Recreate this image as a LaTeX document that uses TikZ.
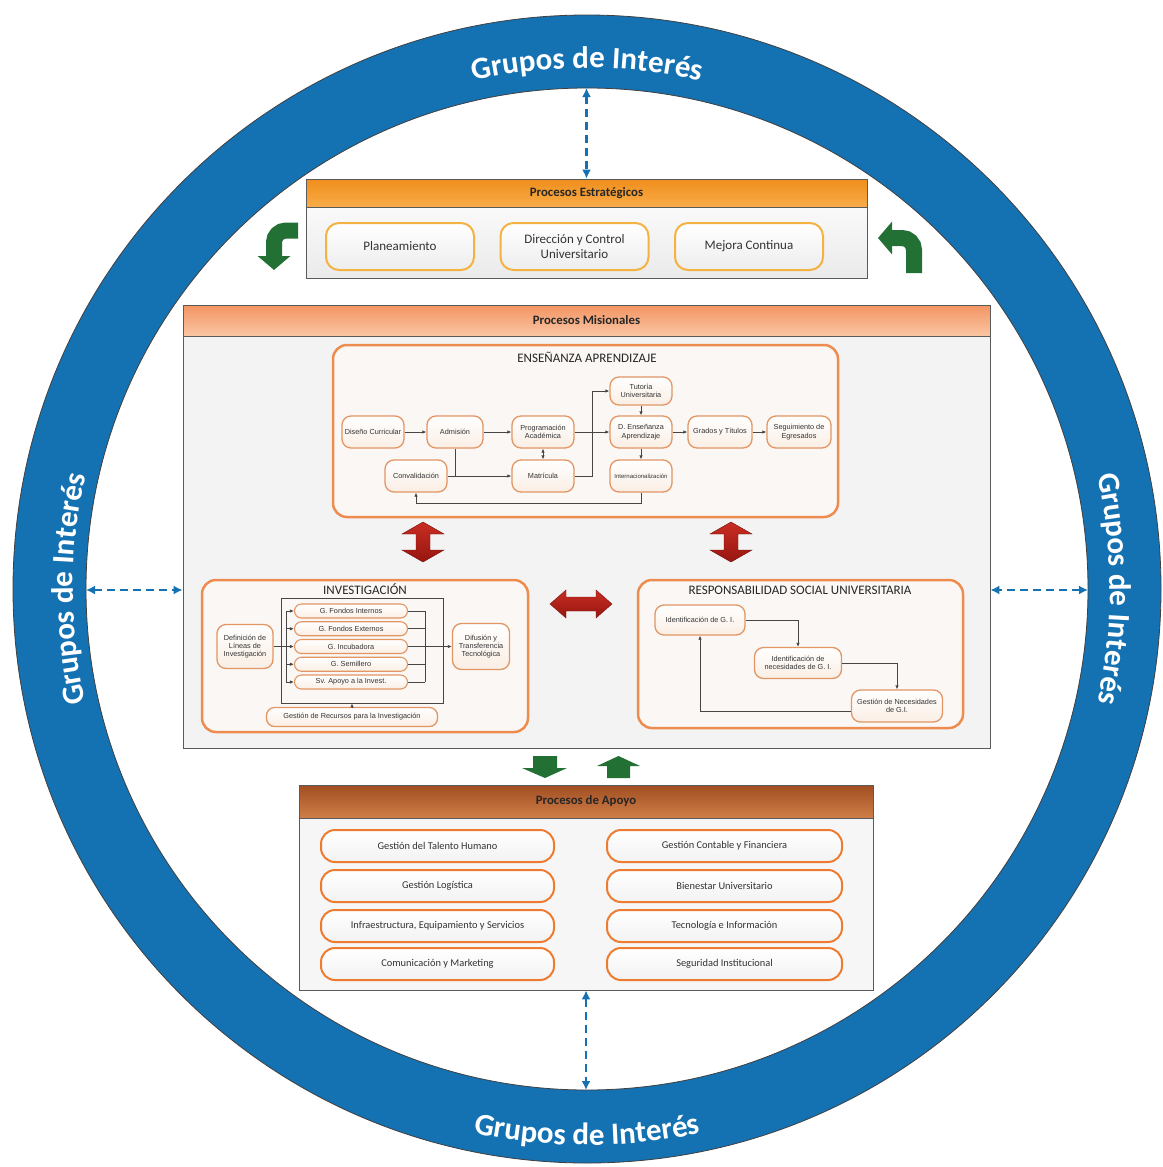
\documentclass[tikz,border=0pt]{standalone}
\usepackage{fontspec}
\setmainfont{Carlito}
\newfontfamily\flowfont{Liberation Sans}
\usetikzlibrary{arrows.meta,decorations.text}

\definecolor{ringblue}{RGB}{20,113,178}
\definecolor{boxgray}{RGB}{90,90,90}
\definecolor{esttop}{RGB}{240,142,28}
\definecolor{estbot}{RGB}{248,172,72}
\definecolor{estborder}{RGB}{244,178,66}
\definecolor{mistop}{RGB}{243,148,98}
\definecolor{misbot}{RGB}{250,198,164}
\definecolor{misfill}{RGB}{243,243,243}
\definecolor{apotop}{RGB}{162,78,34}
\definecolor{apobot}{RGB}{206,126,72}
\definecolor{apofill}{RGB}{246,246,246}
\definecolor{apoborder}{RGB}{238,124,48}
\definecolor{frameorange}{RGB}{238,140,80}
\definecolor{framefill}{RGB}{250,247,244}
\definecolor{flowborder}{RGB}{226,150,100}
\definecolor{flowfill}{RGB}{250,238,228}
\definecolor{linkgray}{RGB}{70,70,70}
\definecolor{arrowgreen}{RGB}{34,112,52}
\definecolor{arrowred}{RGB}{150,22,16}
\definecolor{arrowredlight}{RGB}{200,45,35}

\newcommand{\ringfont}{\fontsize{31}{31}\selectfont\bfseries}

\tikzset{
	ringline/.style={draw=black!75, line width=0.8pt},
	bigbox/.style={draw=boxgray, line width=0.8pt},
	headband/.style={draw=boxgray, line width=0.8pt, anchor=north, font=\fontsize{12.8}{14}\selectfont\bfseries, text=black!85},
	estbox/.style={draw=estborder, line width=2pt, rounded corners=13pt, top color=white, bottom color=gray!14, minimum width=148pt, minimum height=47pt, align=center, font=\fontsize{13}{15}\selectfont, text=black!80},
	apobox/.style={draw=apoborder, line width=2pt, rounded corners=14pt, top color=white, bottom color=gray!10, minimum height=32pt, font=\fontsize{10.4}{12}\selectfont, text=black!80},
	areaframe/.style={draw=frameorange, line width=2.5pt, rounded corners=14pt, fill=framefill},
	areatitle/.style={font=\fontsize{13}{15}\selectfont, text=black!85},
	flowbox/.style={draw=flowborder, line width=1.3pt, rounded corners=9pt, top color=white, bottom color=flowfill, minimum width=62pt, minimum height=32pt, align=center, inner sep=1pt, font=\flowfont\fontsize{7.3}{8.4}\selectfont, text=black!80},
	gbox/.style={flowbox, minimum width=113pt, minimum height=14pt, rounded corners=7pt, line width=1.1pt, inner sep=0.5pt},
	link/.style={draw=linkgray, line width=0.8pt, -{Latex[length=4pt,width=3.5pt]}},
	linkboth/.style={link, {Latex[length=4pt,width=3.5pt]}-{Latex[length=4pt,width=3.5pt]}},
	linkline/.style={draw=linkgray, line width=0.8pt},
	gilink/.style={draw=ringblue, line width=2.2pt, dash pattern=on 8pt off 5pt, {Latex[length=9pt,width=9pt]}-{Latex[length=9pt,width=9pt]}},
	bendarrow/.style={draw=arrowgreen, line width=16pt, rounded corners=12pt, -{Triangle[length=14pt,width=32pt]}},
	blockgreen/.style={fill=arrowgreen},
	blockred/.style={top color=arrowredlight, bottom color=arrowred, draw=arrowred!80!black, line width=0.4pt}
}

\begin{document}
\begin{tikzpicture}[x=1pt,y=-1pt]
	\useasboundingbox (0,0) rectangle (1162,1167);
	\fill[white] (0,0) rectangle (1162,1167);
	% Ring
	\coordinate (ctr) at (587,589);
	\fill[ringblue, even odd rule] (ctr) circle[radius=574pt] (ctr) circle[radius=501pt];
	\draw[ringline] (ctr) circle[radius=574pt];
	\draw[ringline] (ctr) circle[radius=501pt];
	% Ring labels
	\foreach \a/\b/\rad in {115/65/521, 205/155/514, 25/-25/523, 245/295/556} {
		\path[decorate, decoration={text along path, text={|\ringfont|Grupos de Interés}, text align=center, text color=white}]
			([shift={(ctr)}]\a:\rad pt) arc[start angle=\a, end angle=\b, radius=\rad pt];
	}
	\coordinate (ringtop) at (586.5,88);
	\coordinate (ringleft) at (86,590);
	\coordinate (ringright) at (1088,590);
	\coordinate (ringbot) at (586,1090);

	% Strategic
	\node[bigbox, top color=white, bottom color=gray!16, minimum width=561pt, minimum height=99pt] (est) at (586.5,228.5) {};
	\node[headband, top color=esttop, bottom color=estbot, minimum width=561pt, minimum height=28pt] (esthead) at (est.north) {Procesos Estratégicos};
	\foreach \x/\name/\txt in {400/plan/Planeamiento, 574.5/dir/{Dirección y Control\\Universitario}, 749/mej/Mejora Continua} {
		\node[estbox] (\name) at (\x,246.5) {\txt};
	}
	\draw[gilink] (ringtop) -- (est.north);
	\draw[bendarrow] (298,230.5) -- (274,230.5) -- (274,270);
	\draw[bendarrow] (914,273) -- (914,238) -- (878,238);

	% Missional
	\node[bigbox, fill=misfill, minimum width=807pt, minimum height=443pt] (mis) at (586.5,526.5) {};
	\node[headband, top color=mistop, bottom color=misbot, minimum width=807pt, minimum height=31pt] (mishead) at (mis.north) {Procesos Misionales};
	\draw[gilink] (ringleft) -- (ringleft -| mis.west);
	\draw[gilink] (ringright) -- (ringright -| mis.east);

	% Teaching
	\node[areaframe, minimum width=505pt, minimum height=172pt] (ens) at (585.5,431) {};
	\node[areatitle] (enstitle) at (587,357) {ENSEÑANZA APRENDIZAJE};
	\node[flowbox] (dis) at (373,432) {Diseño Curricular};
	\node[flowbox, minimum width=56pt] (adm) at (455,432) {Admisión};
	\node[flowbox] (prog) at (543,432) {Programación\\Académica};
	\node[flowbox, minimum height=28pt] (tut) at (641,391) {Tutoría\\Universitaria};
	\node[flowbox] (dea) at (641,432) {D. Enseñanza\\Aprendizaje};
	\node[flowbox, font=\flowfont\fontsize{6}{7}\selectfont] (intl) at (641,476) {Internacionalización};
	\node[flowbox, minimum width=64pt] (gyt) at (720,432) {Grados y Títulos};
	\node[flowbox, minimum width=64pt] (seg) at (799,432) {Seguimiento de\\Egresados};
	\node[flowbox] (conv) at (416,476) {Convalidación};
	\node[flowbox] (mat) at (543,476) {Matrícula};
	\coordinate (jmt) at (592,476);
	\coordinate (jret) at (641,503);
	\draw[link] (dis) -- (adm);
	\draw[link] (adm) -- (prog);
	\draw[link] (prog) -- (dea);
	\draw[link] (dea) -- (gyt);
	\draw[link] (gyt) -- (seg);
	\draw[link] (tut) -- (dea);
	\draw[link] (dea) -- (intl);
	\draw[linkboth] (prog) -- (mat);
	\draw[link] (conv) -- (mat);
	\draw[linkline] (adm.south) -- (adm.south |- conv.east);
	\draw[link] (mat.east) -- (jmt) |- (tut.west);
	\draw[link] (intl.south) -- (jret) -| (conv.south);

	% Research
	\node[areaframe, minimum width=326pt, minimum height=152pt] (inv) at (365,656) {};
	\node[areatitle] (invtitle) at (365,589) {INVESTIGACIÓN};
	\node[draw=linkgray, line width=0.8pt, minimum width=162pt, minimum height=105pt] (grp) at (362,650.5) {};
	\node[flowbox, minimum width=56pt, minimum height=44pt] (def) at (245,646.5) {Definición de\\Líneas de\\Investigación};
	\foreach \name/\txt [count=\i from 0] in {gfi/G. Fondos Internos, gfe/G. Fondos Externos, ginc/G. Incubadora, gsem/G. Semillero, gsv/Sv. Apoyo a la Invest.} {
		\node[gbox] (\name) at (351,611+17.75*\i) {\txt};
	}
	\node[flowbox, minimum width=57pt, minimum height=46pt] (dif) at (481,646.5) {Difusión y\\Transferencia\\Tecnológica};
	\node[flowbox, minimum width=171pt, minimum height=19pt, rounded corners=8pt] (rec) at (352,717) {Gestión de Recursos para la Investigación};
	\coordinate (lbus) at (286,646.5);
	\coordinate (rbus) at (425,646.5);
	\draw[linkline] (def.east) -- (lbus);
	\draw[linkline] (lbus |- gfi) -- (lbus |- gsv);
	\draw[linkline] (rbus |- gfi) -- (rbus |- gsv);
	\foreach \name in {gfi, gfe, ginc, gsem, gsv} {
		\draw[link] (lbus |- \name) -- (\name.west);
		\draw[linkline] (\name.east) -- (rbus |- \name);
	}
	\draw[link] (ginc.east) -- (dif.west);
	\draw[link] (rec.north) -- (rec.north |- grp.south);

	% Social responsibility
	\node[areaframe, minimum width=325pt, minimum height=148pt] (rsu) at (800.5,654) {};
	\node[areatitle] (rsutitle) at (800,590) {RESPONSABILIDAD SOCIAL UNIVERSITARIA};
	\node[flowbox, minimum width=90pt, minimum height=30pt] (idgi) at (700,620) {Identificación de G. I.};
	\node[flowbox, minimum width=87pt, minimum height=31pt] (idnec) at (798,663) {Identificación de\\necesidades de G. I.};
	\node[flowbox, minimum width=91pt, minimum height=32pt] (gnec) at (897,706) {Gestión de Necesidades\\de G.I.};
	\draw[link] (idgi.east) -| (idnec.north);
	\draw[link] (idnec.east) -| (gnec.north);
	\draw[link] ([yshift=-5pt]gnec.west) -| (idgi.south);

	% Red links between areas
	\foreach \cx in {423, 731} {
		\path[blockred] (\cx,522) -- (\cx+21,534) -- (\cx+7,534) -- (\cx+7,550) -- (\cx+21,550) -- (\cx,562)
			-- (\cx-21,550) -- (\cx-7,550) -- (\cx-7,534) -- (\cx-21,534) -- cycle;
	}
	\path[blockred] (550,604) -- (566,590) -- (566,597) -- (596,597) -- (596,590) -- (612,604)
		-- (596,618) -- (596,611) -- (566,611) -- (566,618) -- cycle;

	% Green links to support
	\fill[blockgreen] (533,756) -- (557,756) -- (557,768) -- (567,768) -- (545,778) -- (522,768) -- (533,768) -- cycle;
	\fill[blockgreen] (618.5,756) -- (640,766) -- (630,766) -- (630,778) -- (607,778) -- (607,766) -- (597,766) -- cycle;

	% Support
	\node[bigbox, fill=apofill, minimum width=574pt, minimum height=205pt] (apo) at (586,887.5) {};
	\node[headband, top color=apotop, bottom color=apobot, minimum width=574pt, minimum height=33pt] (apohead) at (apo.north) {Procesos de Apoyo};
	\foreach \y/\lt/\rt [count=\i] in {846/{Gestión del Talento Humano}/{Gestión Contable y Financiera}, 886/{Gestión Logística}/{Bienestar Universitario}, 926/{Infraestructura, Equipamiento y Servicios}/{Tecnología e Información}, 964/{Comunicación y Marketing}/{Seguridad Institucional}} {
		\node[apobox, minimum width=233pt] (apoL\i) at (437.5,\y) {\lt};
		\node[apobox, minimum width=235pt] (apoR\i) at (724.5,\y) {\rt};
	}
	\draw[gilink] (apo.south) -- (ringbot);
\end{tikzpicture}
\end{document}
